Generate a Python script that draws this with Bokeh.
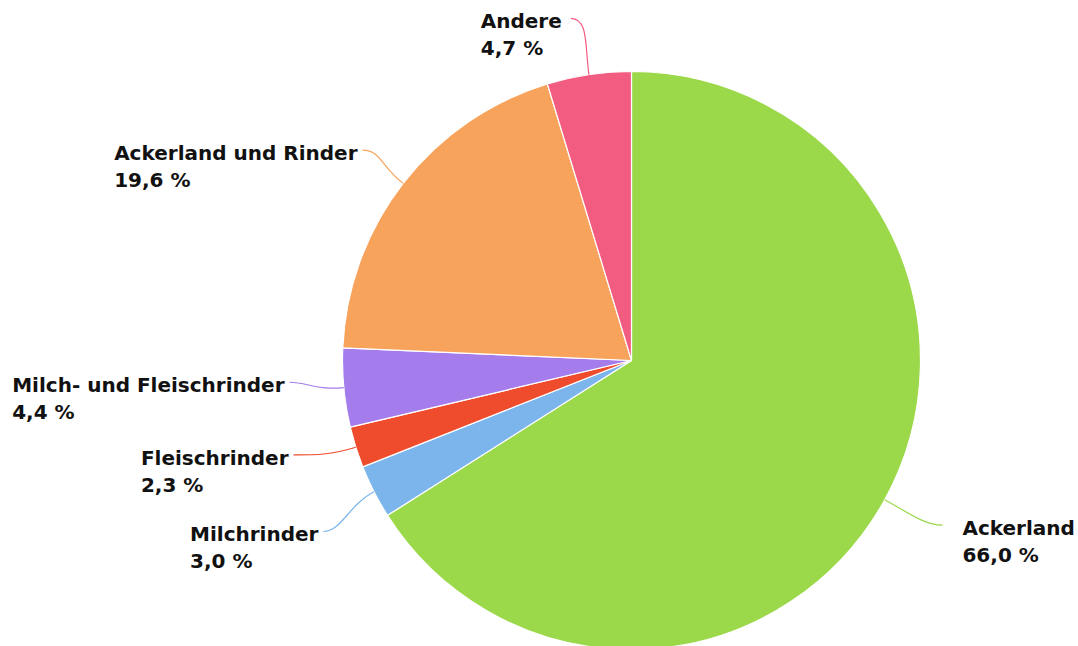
import math
from bokeh.plotting import figure
from bokeh.models import Range1d, ColumnDataSource
from bokeh.core.properties import value
from bokeh.embed import file_html
from bokeh.resources import INLINE

# ---- data ----
categories = ["Ackerland", "Milchrinder", "Fleischrinder",
              "Milch- und Fleischrinder", "Ackerland und Rinder", "Andere"]
shares = [66.0, 3.0, 2.3, 4.4, 19.6, 4.7]
colors = ["#9bd84a", "#7cb5ec", "#ee4c2c", "#a57cec", "#f7a35c", "#f15c80"]

# ---- layout (label nudges in screen px: dx, dy) ----
nudges = [(6, -3), (2, 13), (-6, -10), (4.5, -11), (6, 3), (-9.5, 2)]
gap_left = [5, 5, 5, 5, 5, 9]
W, H = 1078, 646
CX, CY = 631, 360
R = 289
LABEL_DIST = 348
FONT = "DejaVu Sans"
FS = 20

total = sum(shares)
starts, ends, mids = [], [], []
cum = 0.0
for s in shares:
    a0 = math.pi / 2 - 2 * math.pi * (cum + s) / total
    a1 = math.pi / 2 - 2 * math.pi * cum / total
    starts.append(a0)
    ends.append(a1)
    mids.append((a0 + a1) / 2)
    cum += s

pct_labels = [("%.1f" % s).replace(".", ",") + " %" for s in shares]

p = figure(width=W, height=H, x_range=Range1d(-CX, W - CX),
           y_range=Range1d(-(H - CY), CY), output_backend="svg",
           toolbar_location=None, min_border=0)
p.axis.visible = False
p.grid.visible = False
p.outline_line_color = None
p.background_fill_color = "white"

src = ColumnDataSource(dict(start=starts, end=ends, color=colors, name=categories))
p.wedge(x=0, y=0, radius=R, start_angle="start", end_angle="end",
        direction="anticlock", fill_color="color", line_color="white",
        line_width=1.2, source=src)

bx0, by0, bx1, by1, c0x, c0y, c1x, c1y = [], [], [], [], [], [], [], []
tx, ty, anchors, texts = [], [], [], []
for i, a in enumerate(mids):
    dx, dy = math.cos(a), math.sin(a)
    ex = LABEL_DIST * dx + nudges[i][0]
    ey = LABEL_DIST * dy - nudges[i][1]
    side = 1 if dx > 0 else -1
    sx, sy = R * dx, R * dy
    bx0.append(sx); by0.append(sy)
    c0x.append(sx + dx * 28); c0y.append(sy + dy * 28)
    c1x.append(ex - side * 18); c1y.append(ey)
    bx1.append(ex); by1.append(ey)
    if side > 0:
        tx.append(ex + 20); anchors.append("top_left")
    else:
        tx.append(ex - gap_left[i]); anchors.append("top_right")
    ty.append(ey + 9)
    texts.append(categories[i] + "\n" + pct_labels[i])

p.bezier(x0=bx0, y0=by0, x1=bx1, y1=by1, cx0=c0x, cy0=c0y, cx1=c1x, cy1=c1y,
         line_color=colors, line_width=1.2)

tsrc = ColumnDataSource(dict(x=tx, y=ty, text=texts, anchor=anchors))
p.text(x="x", y="y", text="text", anchor="anchor", text_align="left",
       text_font=value(FONT), text_font_size="%dpx" % FS,
       text_font_style="bold", text_line_height=1.12,
       text_color="#111111", source=tsrc)

open("out.html", "w").write(file_html(p, INLINE))
